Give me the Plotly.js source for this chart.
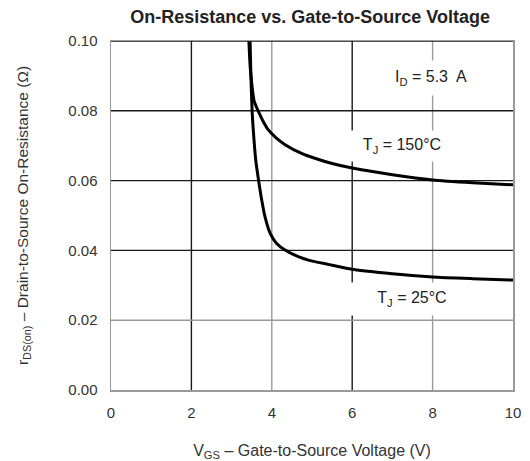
<!DOCTYPE html>
<html>
<head>
<meta charset="utf-8">
<script src="https://cdn.plot.ly/plotly-3.0.1.min.js"></script>
<style>
  html, body { margin: 0; padding: 0; background: #fff; }
  #chart { width: 530px; height: 461px; }
</style>
</head>
<body>
<div id="chart"></div>
<script>
// Gate-to-source voltage (V) and on-resistance (ohm) for each junction temperature
const vgs150 = [3.43, 3.46, 3.50, 3.53, 3.56, 3.61, 3.66, 3.78, 3.91, 4.10, 4.33, 4.74, 5.07, 5.50, 6.00, 7.00, 8.00, 9.00, 10.0];
const rds150 = [0.100, 0.093, 0.088, 0.085, 0.0828, 0.0813, 0.0800, 0.0771, 0.0746, 0.0723, 0.0703, 0.0678, 0.0664, 0.0649, 0.0636, 0.0617, 0.0602, 0.0594, 0.0588];

const vgs25 = [3.46, 3.48, 3.51, 3.555, 3.60, 3.68, 3.75, 3.83, 3.96, 4.12, 4.33, 4.66, 4.91, 5.40, 6.00, 7.00, 8.00, 9.00, 10.0];
const rds25 = [0.100, 0.090, 0.080, 0.072, 0.0659, 0.0594, 0.0544, 0.0497, 0.0449, 0.0420, 0.0401, 0.0382, 0.0372, 0.0360, 0.0346, 0.0333, 0.0324, 0.0319, 0.0315];

// Axis ticks
const xTicks = [0, 2, 4, 6, 8, 10];
const yTicks = [0.00, 0.02, 0.04, 0.06, 0.08, 0.10];

// Grid lines: dark and light rulings
const xGridDark = [2, 6];
const xGridLight = [4, 8];
const yGridDark = [0.04, 0.06, 0.08];
const yGridLight = [0.02];

const FONT = '"Liberation Sans", Arial, Helvetica, sans-serif';
const DARK = '#1a1a1a';
const LIGHT = '#9a9a9a';

function vline(x, color) {
  return { type: 'line', xref: 'x', yref: 'y', x0: x, x1: x, y0: 0, y1: 0.1,
           line: { color: color, width: 1.4 }, layer: 'below' };
}
function hline(y, color) {
  return { type: 'line', xref: 'x', yref: 'y', x0: 0, x1: 10, y0: y, y1: y,
           line: { color: color, width: 1.4 }, layer: 'below' };
}

const shapes = []
  .concat(xGridDark.map(v => vline(v, DARK)))
  .concat(xGridLight.map(v => vline(v, LIGHT)))
  .concat(yGridDark.map(v => hline(v, DARK)))
  .concat(yGridLight.map(v => hline(v, LIGHT)));
// heavy upper frame edge
shapes.push({ type: 'line', xref: 'x', yref: 'y', x0: 0, x1: 10, y0: 0.1, y1: 0.1,
              line: { color: DARK, width: 1.6 }, layer: 'above' });

const curve = { color: '#000', width: 3, shape: 'spline', smoothing: 0.6 };

const traces = [
  { x: vgs150, y: rds150, mode: 'lines', line: curve, name: 'TJ = 150°C', hoverinfo: 'skip' },
  { x: vgs25, y: rds25, mode: 'lines', line: curve, name: 'TJ = 25°C', hoverinfo: 'skip' }
];

const labelFont = { family: FONT, size: 16, color: '#222' };

const annotations = [
  { x: 7.95, y: 0.0894, xref: 'x', yref: 'y', text: 'I<sub>D</sub> = 5.3  A',
    showarrow: false, bgcolor: '#fff', width: 92, height: 32, font: labelFont },
  { x: 7.24, y: 0.0699, xref: 'x', yref: 'y', text: 'T<sub>J</sub> = 150°C',
    showarrow: false, bgcolor: '#fff', width: 104, height: 28, font: labelFont },
  { x: 7.475, y: 0.0262, xref: 'x', yref: 'y', text: 'T<sub>J</sub> = 25°C',
    showarrow: false, bgcolor: '#fff', width: 124, height: 30, font: labelFont }
];

const layout = {
  width: 530, height: 461,
  margin: { l: 111, r: 17, t: 41, b: 71 },
  paper_bgcolor: '#fff', plot_bgcolor: '#fff',
  showlegend: false,
  font: { family: FONT, color: '#333' },
  title: {
    text: '<b>On-Resistance vs. Gate-to-Source Voltage</b>',
    font: { family: FONT, size: 18, color: '#222' },
    x: 0.585, xanchor: 'center', y: 0.963, yanchor: 'middle'
  },
  xaxis: {
    range: [0, 10], tickvals: xTicks, ticktext: xTicks.map(String),
    showgrid: false, zeroline: false, showline: true, mirror: true,
    linecolor: LIGHT, linewidth: 1.5, ticks: '',
    ticklabelstandoff: 8,
    tickfont: { family: FONT, size: 15, color: '#333' },
    title: { text: 'V<sub>GS</sub> – Gate-to-Source Voltage (V)', standoff: 26,
             font: { family: FONT, size: 16, color: '#333' } }
  },
  yaxis: {
    range: [0, 0.1], tickvals: yTicks, ticktext: yTicks.map(v => v.toFixed(2)),
    showgrid: false, zeroline: false, showline: true, mirror: true,
    linecolor: LIGHT, linewidth: 1.5, ticks: '',
    ticklabelstandoff: 9,
    tickfont: { family: FONT, size: 15, color: '#333' },
    title: { text: 'r<sub>DS(on)</sub> – Drain-to-Source On-Resistance (Ω)', standoff: 36,
             font: { family: FONT, size: 15.5, color: '#333' } }
  },
  shapes: shapes,
  annotations: annotations
};

Plotly.newPlot('chart', traces, layout, { displayModeBar: false, staticPlot: true });
</script>
</body>
</html>
